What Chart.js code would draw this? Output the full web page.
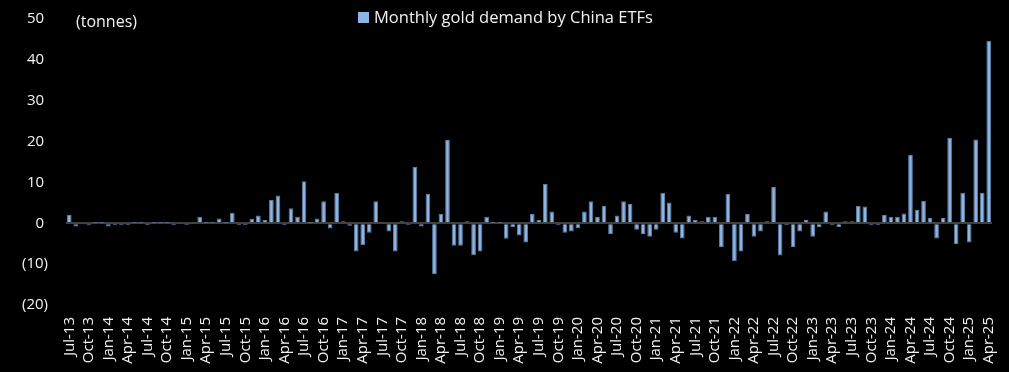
<!DOCTYPE html>
<html>
<head>
<meta charset="utf-8">
<title>Monthly gold demand by China ETFs</title>
<script src="https://cdn.jsdelivr.net/npm/chart.js@4.4.0/dist/chart.umd.min.js"></script>
<style>
  html, body { margin: 0; padding: 0; background: #000; }
  #wrap { position: relative; width: 1009px; height: 372px; }
</style>
</head>
<body>
<div id="wrap"><canvas id="etfChart"></canvas></div>
<script>
// Monthly categories, Jul-13 .. Apr-25
const monthNames = ['Jan', 'Feb', 'Mar', 'Apr', 'May', 'Jun', 'Jul', 'Aug', 'Sep', 'Oct', 'Nov', 'Dec'];
const months = [];
for (let y = 2013; y <= 2025; y++) {
  for (let m = 0; m < 12; m++) {
    if (y === 2013 && m < 6) continue;
    if (y === 2025 && m > 3) continue;
    months.push(monthNames[m] + '-' + String(y).slice(2));
  }
}

// Tonnes
const demand = [
  2.0, -0.8, -0.2, -0.5, 0.1, 0.1, -0.8, -0.5, -0.5, -0.5, 0.1, 0.1,      // Jul-13 .. Jun-14
  -0.5, 0.1, 0.1, 0.1, -0.5, 0.2, -0.4, 0.2, 1.6, 0.1, 0.1, 1.2,          // Jul-14 .. Jun-15
  0.1, 2.6, -0.5, -0.5, 1.1, 1.9, 0.8, 5.7, 6.8, -0.5, 3.7, 1.6,          // Jul-15 .. Jun-16
  10.3, 0.1, 1.2, 5.4, -1.3, 7.5, 0.5, -0.6, -6.9, -5.4, -2.3, 5.4,       // Jul-16 .. Jun-17
  0.2, -2.0, -6.9, 0.5, -0.4, 13.8, -0.8, 7.2, -12.5, 2.3, 20.4, -5.5,    // Jul-17 .. Jun-18
  -5.5, 0.5, -7.8, -6.9, 1.6, 0.1, 0.1, -3.8, -0.9, -3.0, -4.7, 2.3,      // Jul-18 .. Jun-19
  0.8, 9.6, 2.9, -0.5, -2.3, -2.0, -1.2, 2.9, 5.4, 1.6, 4.3, -2.6,        // Jul-19 .. Jun-20
  1.9, 5.4, 4.7, -1.6, -2.6, -3.3, -1.6, 7.5, 5.1, -2.3, -3.7, 1.9,       // Jul-20 .. Jun-21
  0.8, 0.5, 1.6, 1.6, -5.8, 7.2, -9.3, -6.9, 2.3, -3.3, -2.0, 0.5,        // Jul-21 .. Jun-22
  8.9, -7.9, -0.5, -5.8, -2.0, 0.8, -3.3, -0.9, 2.9, -0.5, -0.9, 0.5,     // Jul-22 .. Jun-23
  0.5, 4.3, 4.1, -0.5, -0.5, 2.0, 1.6, 1.6, 2.4, 16.7, 3.3, 5.5,          // Jul-23 .. Jun-24
  1.3, -3.7, 1.3, 20.9, -5.1, 7.5, -4.7, 20.5, 7.5, 44.7                  // Jul-24 .. Apr-25
];

const yMin = -20;
const yMax = 50;
const yStep = 10;

const textColor = '#f2f2f2';
const barColor = '#8db4e2';
const fontFamily = '"Open Sans", "Noto Sans", sans-serif';

// legend + unit label drawn straight onto the canvas, over the plot area
const overlayText = {
  id: 'overlayText',
  afterDraw(chart) {
    const c = chart.ctx;
    c.save();
    c.fillStyle = textColor;
    c.textBaseline = 'middle';
    c.textAlign = 'left';
    c.font = '16px ' + fontFamily;
    c.fillText('(tonnes)', 76, 22);
    c.fillStyle = barColor;
    c.fillRect(358, 12, 11, 11);
    c.fillStyle = textColor;
    c.font = '16.5px ' + fontFamily;
    c.fillText('Monthly gold demand by China ETFs', 374, 18);
    c.restore();
  }
};

const ctx = document.getElementById('etfChart').getContext('2d');
const etfChart = new Chart(ctx, {
  type: 'bar',
  data: {
    labels: months,
    datasets: [{
      label: 'Monthly gold demand by China ETFs',
      data: demand,
      backgroundColor: barColor,
      borderColor: '#5b7ea6',
      borderWidth: 1,
      barPercentage: 0.72,
      categoryPercentage: 1.0
    }]
  },
  options: {
    responsive: true,
    maintainAspectRatio: false,
    animation: false,
    layout: { padding: { top: 19, right: 17, left: 0, bottom: 0 } },
    plugins: {
      legend: { display: false },
      tooltip: { enabled: false }
    },
    scales: {
      x: {
        grid: { display: false, drawTicks: false },
        border: { display: false },
        ticks: {
          autoSkip: false,
          maxRotation: 90,
          minRotation: 90,
          padding: 12,
          color: textColor,
          font: { family: fontFamily, size: 15 },
          callback(value, index) {
            return index % 3 === 0 ? this.getLabelForValue(value) : '';
          }
        },
        afterFit(scale) {
          scale.height = 67;
          scale.paddingLeft = 0;
          scale.paddingRight = 0;
        }
      },
      y: {
        min: yMin,
        max: yMax,
        border: { display: false },
        grid: {
          drawTicks: false,
          lineWidth: 2,
          color: (c) => (c.tick && c.tick.value === 0 ? '#404040' : 'rgba(0,0,0,0)')
        },
        ticks: {
          stepSize: yStep,
          padding: 18,
          color: textColor,
          font: { family: fontFamily, size: 15 },
          callback: (v) => (v < 0 ? '(' + Math.abs(v) + ')' : v + ' ')
        },
        afterFit(scale) {
          scale.width = 66;
          scale.paddingTop = 0;
          scale.paddingBottom = 0;
        }
      }
    }
  },
  plugins: [overlayText]
});
</script>
</body>
</html>
